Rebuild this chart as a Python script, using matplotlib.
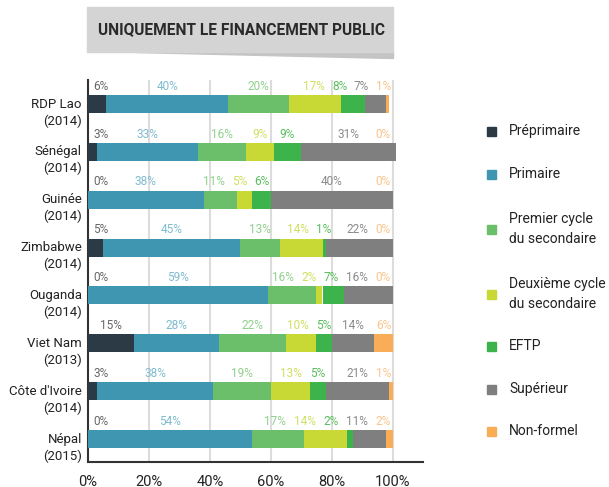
import numpy as np
import matplotlib
matplotlib.use("Agg")
import matplotlib.pyplot as plt
from matplotlib.patches import Rectangle, Polygon

plt.rcParams['font.family'] = ['Roboto', 'DejaVu Sans']

countries = ["RDP Lao\n(2014)", "Sénégal\n(2014)", "Guinée\n(2014)", "Zimbabwe\n(2014)",
             "Ouganda\n(2014)", "Viet Nam\n(2013)", "Côte d'Ivoire\n(2014)", "Népal\n(2015)"]
levels = ["Préprimaire", "Primaire", "Premier cycle\ndu secondaire",
          "Deuxième cycle\ndu secondaire", "EFTP", "Supérieur", "Non-formel"]

preprimaire = [6, 3, 0, 5, 0, 15, 3, 0]
primaire = [40, 33, 38, 45, 59, 28, 38, 54]
premier = [20, 16, 11, 13, 16, 22, 19, 17]
deuxieme = [17, 9, 5, 14, 2, 10, 13, 14]
eftp = [8, 9, 6, 1, 7, 5, 5, 2]
superieur = [7, 31, 40, 22, 16, 14, 21, 11]
nonformel = [1, 0, 0, 0, 0, 6, 1, 2]

series = [preprimaire, primaire, premier, deuxieme, eftp, superieur, nonformel]
colors = ["#2b3a45", "#3f96b1", "#6cbf6a", "#c8d935", "#3cb44b", "#7f7f80", "#f8ad56"]
label_colors = ["#666666", "#7fbcd0", "#8fd08b", "#cfe060", "#58bd5c", "#8a8a8a", "#f9c48a"]

fig = plt.figure(figsize=(6.09, 4.87), dpi=100)
ax = fig.add_axes([88/609, 1-462/487, 335/609, 382/487])

data = np.array(series, dtype=float)  # levels x countries
starts = np.vstack([np.zeros(data.shape[1]), np.cumsum(data, axis=0)[:-1]])
y = np.arange(len(countries))

for k, c in enumerate(colors):
    ax.barh(y, data[k], left=starts[k], height=0.376, color=c, zorder=3)

# percentage labels above the bars, pushed left where they would collide
for j in y:
    texts = [f"{int(v)}%" for v in data[:, j]]
    widths = [2.7 * (len(t) - 1) + 3.3 for t in texts]
    xs = [starts[k, j] + data[k, j] / 2 for k in range(len(texts))]
    xs[0] = max(xs[0], 1.3 + widths[0] / 2)
    xs[-1] = 100 - widths[-1] / 2
    for k in range(len(texts) - 2, -1, -1):
        lim = xs[k + 1] - (widths[k] + widths[k + 1]) / 2 - 1.2
        xs[k] = min(xs[k], lim)
    for k, t in enumerate(texts):
        ax.text(xs[k], j - 0.37, t, ha='center', va='center',
                fontsize=8.5, color=label_colors[k], zorder=4)

ax.set_xlim(0, 110)
ax.set_ylim(7.48, -0.5)
ax.set_xticks([0, 20, 40, 60, 80, 100])
ax.set_xticklabels(["0%", "20%", "40%", "60%", "80%", "100%"], fontsize=10.5, color="#222222")
ax.tick_params(axis='x', length=0, pad=9)
ax.set_yticks([])
for s in ['top', 'right']:
    ax.spines[s].set_visible(False)
for s in ['left', 'bottom']:
    ax.spines[s].set_color("#333333")
    ax.spines[s].set_linewidth(1.5)
for gx in [20, 40, 60, 80, 100]:
    ax.axvline(gx, color="#dcdcdc", lw=1.5, zorder=1)

for yi, name in zip(y, countries):
    ax.text(-2, yi + 0.18, name, ha='right', va='center', fontsize=9.5,
            color="#222222", linespacing=1.35)

# title box
fig.patches.append(Polygon([[135/609, 1-52/487], [393/609, 1-52/487], [393/609, 1-58/487]],
                           closed=True, transform=fig.transFigure, color="#c4c4c4", zorder=0))
fig.patches.append(Rectangle((87/609, 1-52/487), 306/609, 45/487, transform=fig.transFigure,
                             color="#d4d4d4", zorder=1))
fig.text(241/609, 1-30/487, "UNIQUEMENT LE FINANCEMENT PUBLIC", ha='center', va='center',
         fontsize=11.2, fontweight='bold', color="#2a2a2a")

# legend
leg_y = [131, 174, 229, 294, 346, 389, 431]
for ly, lab, c in zip(leg_y, levels, colors):
    fig.patches.append(Rectangle((487/609, 1-(ly+4.5)/487), 9/609, 9/487,
                                 transform=fig.transFigure, color=c))
    fig.text(509/609, 1-ly/487, lab, ha='left', va='center', fontsize=10,
             color="#222222", linespacing=1.6)

fig.savefig("out.png", dpi=100)
